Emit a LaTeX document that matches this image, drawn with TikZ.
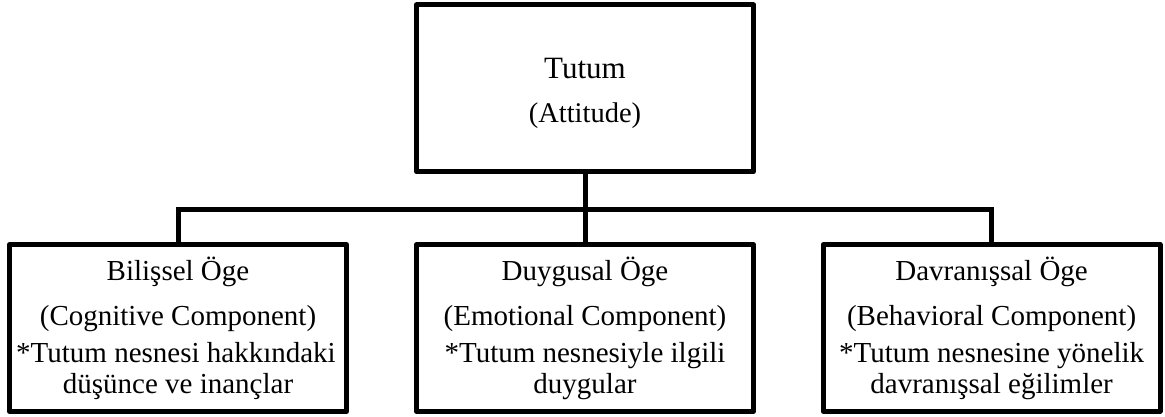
\documentclass[tikz,border=0pt]{standalone}
\usepackage{fontspec}
\setmainfont{Liberation Serif}
\begin{document}
\begin{tikzpicture}[x=1pt,y=-1pt,
  box/.style={draw=black,line width=5pt,rectangle,inner sep=0pt,
    minimum width=336.8pt,minimum height=166.7pt,line join=round},
  conn/.style={draw=black,line width=5pt,line join=miter},
  txt/.style={anchor=base,inner sep=0pt,font=\fontsize{29}{33}\selectfont},
  ttl/.style={anchor=base,inner sep=0pt,font=\fontsize{31}{35}\selectfont},
  sub/.style={anchor=base,inner sep=0pt,font=\fontsize{28.5}{33}\selectfont}]
\useasboundingbox (0,0) rectangle (1165,416);
\fill[white] (0,0) rectangle (1165,416);

\node[box] (top) at (585,88.3) {};
\node[box] (L) at (178,327.9) {};
\node[box] (M) at (585,327.9) {};
\node[box] (R) at (991.6,327.9) {};

\coordinate (bar) at (585,209);

\draw[conn] (top.south) -- (M.north);
\draw[conn] (L.north) -- (L.north |- bar) -- (R.north |- bar) -- (R.north);

\node[ttl] (t1) at (585,78) {Tutum};
\node[sub] (t2) at (585,122) {(Attitude)};

\node[txt] (l1) at (178,280) {Bilişsel Öge};
\node[txt] (l2) at (178,325) {(Cognitive Component)};
\node[txt] (l3) at (176,362) {*Tutum nesnesi hakkındaki};
\node[txt] (l4) at (178,393) {düşünce ve inançlar};

\node[txt] (m1) at (585,280) {Duygusal Öge};
\node[txt] (m2) at (585,325) {(Emotional Component)};
\node[txt] (m3) at (585,362) {*Tutum nesnesiyle ilgili};
\node[txt] (m4) at (585,393) {duygular};

\node[txt] (r1) at (991.6,280) {Davranışsal Öge};
\node[txt] (r2) at (991.6,325) {(Behavioral Component)};
\node[txt] (r3) at (991.6,362) {*Tutum nesnesine yönelik};
\node[txt] (r4) at (991.6,393) {davranışsal eğilimler};
\end{tikzpicture}
\end{document}
